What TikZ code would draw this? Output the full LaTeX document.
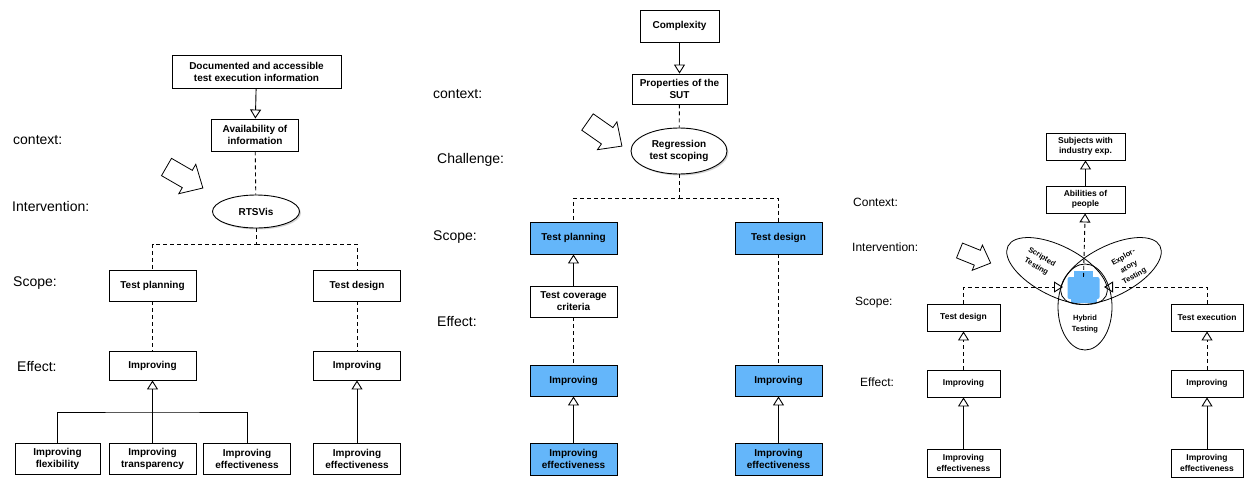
\documentclass[tikz,border=0pt]{standalone}
\usepackage{fontspec}
\setmainfont{Liberation Sans}
\usepackage{xcolor}
\definecolor{hlblue}{RGB}{100,182,250}
\usepackage{tikz}
\usetikzlibrary{positioning,arrows.meta,shapes.geometric,shadows}

\begin{document}
\begin{tikzpicture}[x=1pt,y=-1pt,
  box/.style={draw,line width=0.9pt,fill=white,align=center,inner sep=1pt,
    font=\fontsize{10}{12}\selectfont\bfseries,minimum width=87pt,minimum height=31pt},
  sbox/.style={box,font=\fontsize{8.5}{10.5}\selectfont\bfseries,minimum width=73pt,minimum height=27pt},
  hbox/.style={box,fill=hlblue},
  oval/.style={draw,ellipse,line width=0.9pt,fill=white,align=center,inner sep=0pt,
    font=\fontsize{10}{12}\selectfont\bfseries,
    drop shadow={opacity=0.35,shadow xshift=1.5pt,shadow yshift=-1.5pt}},
  venn/.style={draw,ellipse,line width=0.8pt,inner sep=0pt},
  vtxt/.style={align=center,inner sep=0pt,font=\fontsize{7.5}{11}\selectfont\bfseries},
  lbl/.style={anchor=west,inner sep=0pt,font=\fontsize{14}{16}\selectfont},
  slbl/.style={lbl,font=\fontsize{12}{14}\selectfont},
  ln/.style={line width=0.9pt},
  dl/.style={ln,dash pattern=on 4pt off 3pt},
  tri/.style={-{Triangle[open,length=9pt,width=11pt,line width=0.9pt]}},
  hint/.pic={
    \draw[line width=0.8pt,fill=white,line join=miter]
      (0,-10) -- (24,-10) -- (24,-17) -- (42,0) -- (24,17) -- (24,10) -- (0,10) -- cycle;
  },
]
\useasboundingbox (0,0) rectangle (1246,479);

% ---- left: RTSVis
\node[lbl] (lctx) at (13,140) {context:};
\node[lbl] (lint) at (12,206) {Intervention:};
\node[lbl] (lsco) at (13,283) {Scope:};
\node[lbl] (leff) at (17,366) {Effect:};

\node[box,minimum width=169pt,minimum height=33pt] (ldoc) at (256.5,71.5) {Documented and accessible\\test execution information};
\node[box,minimum height=32pt] (lava) at (255,135) {Availability of\\information};
\node[oval,minimum width=87pt,minimum height=33pt] (lrts) at (256,211.5) {RTSVis};
\coordinate (lsplit) at (256,244);
\node[box] (ltp) at (152.5,285.5) {Test planning};
\node[box] (ltd) at (357,285.5) {Test design};
\node[box,minimum height=29pt] (limpl) at (152.5,365.5) {Improving};
\node[box,minimum height=29pt] (limpr) at (357,365.5) {Improving};
\node[box,minimum width=85pt] (lflex) at (57.5,458.5) {Improving\\flexibility};
\node[box] (ltrans) at (152.5,458.5) {Improving\\transparency};
\node[box] (lefl) at (247,458.5) {Improving\\effectiveness};
\node[box] (lefr) at (357,458.5) {Improving\\effectiveness};
\coordinate (ljoin) at (152.5,412);

\draw[ln,tri] (ldoc) -- (lava);
\draw[dl] (lava) -- (lrts);
\draw[dl] (lrts) -- (lsplit) -| (ltp);
\draw[dl] (lsplit) -| (ltd);
\draw[dl] (ltp) -- (limpl);
\draw[dl] (ltd) -- (limpr);
\draw[ln] (lflex.north) |- (ljoin) -| (lefl.north);
\draw[ln,tri] (ltrans) -- (limpl);
\draw[ln,tri] (lefr) -- (limpr);
\path (166.5,167) pic[rotate=-30] {hint};

% ---- middle: regression test scoping
\node[lbl] (mctx) at (433,94) {context:};
\node[lbl] (mcha) at (437,160) {Challenge:};
\node[lbl] (msco) at (433,237) {Scope:};
\node[lbl] (meff) at (437,321) {Effect:};

\node[box,minimum width=79pt,minimum height=32pt] (mcx) at (679.5,26) {Complexity};
\node[box,minimum width=95pt,minimum height=30pt] (mprop) at (679.5,89) {Properties of the\\SUT};
\node[oval,minimum width=96pt,minimum height=46pt] (mreg) at (679,151) {Regression\\test scoping};
\coordinate (msplit) at (679,198);
\node[hbox,minimum height=32pt] (mtp) at (573.5,238) {Test planning};
\node[hbox,minimum height=32pt] (mtd) at (778.5,238) {Test design};
\node[box] (mcov) at (573.5,301.5) {Test coverage\\criteria};
\node[hbox] (mimpl) at (573.5,380.5) {Improving};
\node[hbox] (mimpr) at (778.5,380.5) {Improving};
\node[hbox,minimum height=32pt] (mefl) at (573.5,459) {Improving\\effectiveness};
\node[hbox,minimum height=32pt] (mefr) at (778.5,459) {Improving\\effectiveness};

\draw[ln,tri] (mcx) -- (mprop);
\draw[dl] (mprop) -- (mreg);
\draw[dl] (mreg) -- (msplit) -| (mtp);
\draw[dl] (msplit) -| (mtd);
\draw[ln,tri] (mcov) -- (mtp);
\draw[dl] (mcov) -- (mimpl);
\draw[dl] (mtd) -- (mimpr);
\draw[ln,tri] (mefl) -- (mimpl);
\draw[ln,tri] (mefr) -- (mimpr);
\path (587.5,122) pic[rotate=-35] {hint};

% ---- right: hybrid testing
\node[slbl] (rctx) at (853,202) {Context:};
\node[slbl] (rint) at (852,247) {Intervention:};
\node[slbl] (rsco) at (855,303) {Scope:};
\node[slbl] (reff) at (860,382) {Effect:};

\node[sbox,minimum width=79pt] (rsub) at (1085.5,146.5) {Subjects with\\industry exp.};
\node[sbox,minimum width=79pt] (rabl) at (1085.5,199.5) {Abilities of\\people};

\node[draw=none,fill=hlblue,rounded corners=2pt,minimum width=32pt,minimum height=22pt] (rblob) at (1083.5,288) {};
\fill[hlblue] (1074,271) rectangle (1093,278);
\fill[hlblue] (1071,296) rectangle (1097,303);

\node[venn,minimum width=110pt,minimum height=50pt,rotate=-27] (rscr) at (1057,271) {};
\node[venn,minimum width=110pt,minimum height=50pt,rotate=27] (rexp) at (1111,271) {};
\node[venn,minimum width=54pt,minimum height=86pt] (rhyb) at (1085,307) {};
\node[vtxt,rotate=-30] (tscr) at (1039,262) {Scripted\\Testing};
\node[vtxt,rotate=30] (texp) at (1129,267) {Explor-\\atory\\Testing};
\node[vtxt] (thyb) at (1085,324) {Hybrid\\Testing};

\node[sbox] (rtd) at (963.5,317.5) {Test design};
\node[sbox,minimum width=72pt] (rte) at (1207,317.5) {Test execution};
\node[sbox] (rimpl) at (963.5,383.5) {Improving};
\node[sbox,minimum width=72pt] (rimpr) at (1207,383.5) {Improving};
\node[sbox,minimum height=28pt] (refl) at (963.5,463) {Improving\\effectiveness};
\node[sbox,minimum width=72pt,minimum height=28pt] (refr) at (1207,463) {Improving\\effectiveness};
\coordinate (rinl) at (1063,287);
\coordinate (rinr) at (1104,287);

\draw[ln,tri] (rabl) -- (rsub);
\draw[dl,tri] (rblob.north) -- (rabl);
\draw[dl,tri] (rtd.north) |- (rinl);
\draw[dl,tri] (rte.north) |- (rinr);
\draw[dl,tri] (rimpl) -- (rtd);
\draw[dl,tri] (rimpr) -- (rte);
\draw[ln,tri] (refl) -- (rimpl);
\draw[ln,tri] (refr) -- (rimpr);
\path (959.5,250.5) pic[rotate=-22,scale=0.8] {hint};
\end{tikzpicture}
\end{document}
